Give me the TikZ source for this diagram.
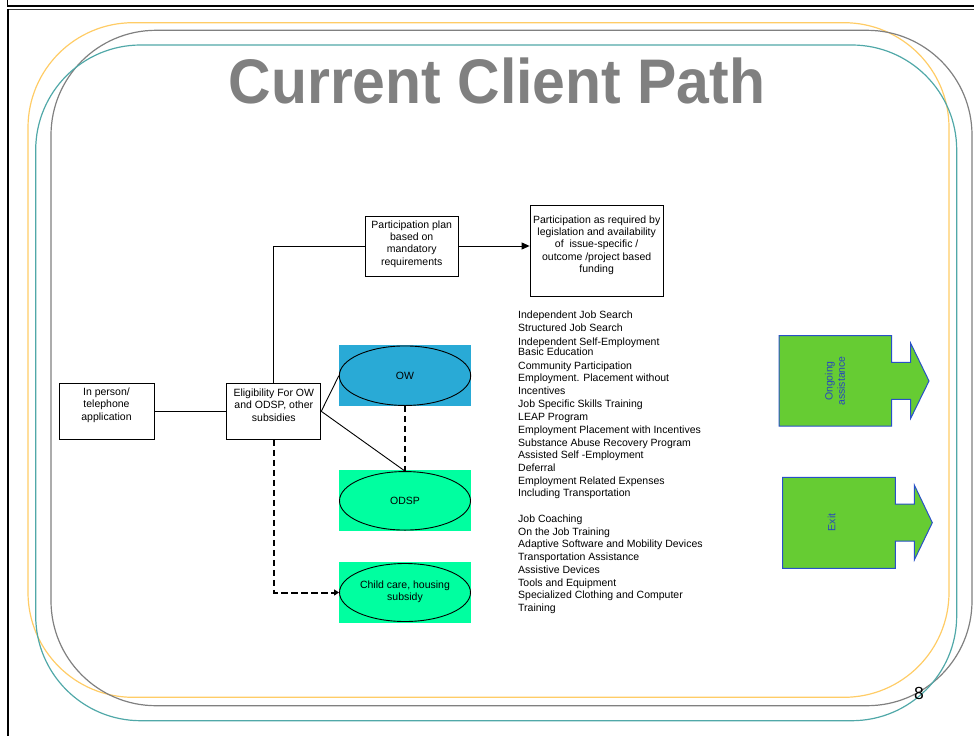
\documentclass[tikz,border=0pt]{standalone}
\usepackage{fontspec}
\setmainfont{Liberation Sans}
\usetikzlibrary{arrows.meta,shapes.geometric}

\definecolor{framegold}{RGB}{255,204,102}
\definecolor{framegray}{RGB}{128,128,128}
\definecolor{frameteal}{RGB}{80,168,168}
\definecolor{titlegray}{RGB}{128,128,128}
\definecolor{owblue}{RGB}{41,170,214}
\definecolor{odspgreen}{RGB}{0,255,160}
\definecolor{exitgreen}{RGB}{102,204,51}
\definecolor{exitedge}{RGB}{40,80,200}
\definecolor{exittext}{RGB}{40,70,190}

\tikzset{
  smalltext/.style={font=\fontsize{10.5}{12.3}\selectfont, align=center, inner sep=0pt},
  listtext/.style={font=\fontsize{10.5}{12.6}\selectfont, anchor=base west, inner sep=0pt},
  stepbox/.style={draw=black, line width=0.9pt, fill=white, inner sep=0pt},
  colorbg/.style={inner sep=0pt, minimum width=132pt},
  oval/.style={ellipse, draw=black, line width=0.9pt, inner sep=0pt},
  frameline/.style={line width=1.2pt, rounded corners=105pt},
  link/.style={draw=black, line width=0.9pt},
  dashlink/.style={draw=black, line width=2pt, dash pattern=on 6.5pt off 3.5pt},
  exitshape/.style={fill=exitgreen, draw=exitedge, line width=1pt},
  exitlabel/.style={font=\fontsize{10.5}{12.3}\selectfont, text=exittext, align=center, rotate=90, inner sep=0pt}
}

\begin{document}
\begin{tikzpicture}[x=1pt,y=-1pt]
\useasboundingbox (0,0) rectangle (974,736);

% slide border
\draw[line width=1.8pt] (7.5,0) -- (7.5,7);
\draw[line width=2pt] (7,6.3) -- (974,6.3);
\draw[line width=1.5pt, black!80] (7,9.6) -- (974,9.6);
\draw[line width=2pt] (8,9) -- (8,736);

% decorative rounded frames
\draw[frameline, framegold] (28,22.7) rectangle (949,697.3);
\draw[frameline, framegray] (51,30.3) rectangle (972,705.7);
\draw[frameline, frameteal] (35.7,45) rectangle (956.7,720.7);

% title
\node[anchor=base, inner sep=0pt, text=titlegray,
      font=\fontsize{63}{63}\selectfont\bfseries] (title) at (497,103.5)
      {\scalebox{0.935}[1]{Current Client Path}};

% boxes
\node[stepbox, minimum width=95pt, minimum height=56pt] (app) at (106.5,411.3) {};
\node[smalltext] (appT) at (106.5,405) {In person/\\telephone\\application};

\node[stepbox, minimum width=94pt, minimum height=56pt] (elig) at (273.8,411.3) {};
\node[smalltext] (eligT) at (273.8,405) {Eligibility For OW\\and ODSP, other\\subsidies};

\node[stepbox, minimum width=93.3pt, minimum height=60pt] (plan) at (411.7,246) {};
\node[smalltext] (planT) at (411.7,244) {Participation plan\\based on\\mandatory\\requirements};

\node[stepbox, minimum width=133.3pt, minimum height=91.7pt] (part) at (596.7,250.8) {};
\node[smalltext] (partT) at (596.7,245) {Participation as required by\\legislation and availability\\of\ \ issue-specific /\\outcome /project based\\funding};

% programme ovals on coloured panels
\node[colorbg, fill=owblue, minimum height=61pt] (owbg) at (405,375.5) {};
\node[oval, minimum width=131.4pt, minimum height=59.5pt, font=\fontsize{10.5}{12.3}\selectfont] (ow) at (405,375.7) {OW};

\node[colorbg, fill=odspgreen, minimum height=61pt] (odspbg) at (405,500.5) {};
\node[oval, minimum width=131pt, minimum height=58.5pt, font=\fontsize{10.5}{12.3}\selectfont] (odsp) at (405,500.8) {ODSP};

\node[colorbg, fill=odspgreen, minimum height=60.4pt] (childbg) at (405,592.5) {};
\node[oval, minimum width=131pt, minimum height=58pt] (child) at (405,592.5) {};
\node[smalltext] (childT) at (405,591.8) {Child care, housing\\subsidy};

% connectors
\draw[link] (app.east) -- (elig.west);
\draw[link] (elig.north) |- (plan.west);
\draw[link, -{Triangle[length=8pt,width=7pt]}] (plan.east) -- (plan.east -| part.west);
\draw[link] (elig.east) -- (ow.west);
\draw[link] (elig.east) -- (odsp.north);
\draw[dashlink] (ow.south) -- (odsp.north);
\draw[dashlink, -{Triangle[length=5pt,width=6pt]}] (elig.south) |- (child.west);

% list of programme options
\foreach \yy/\itemtext [count=\i] in {
  315/Independent Job Search,
  328.3/Structured Job Search,
  341.7/Independent Self-Employment,
  352.3/Basic Education,
  365.7/Community Participation,
  378.3/Employment. Placement without,
  390.7/Incentives,
  404.3/Job Specific Skills Training,
  416.7/LEAP Program,
  430/Employment Placement with Incentives,
  442.7/Substance Abuse Recovery Program,
  455/Assisted Self -Employment,
  468.3/Deferral,
  480.7/Employment Related Expenses,
  492.7/Including Transportation,
  519/Job Coaching,
  531.7/On the Job Training,
  544.3/Adaptive Software and Mobility Devices,
  557.3/Transportation Assistance,
  570/Assistive Devices,
  582.7/Tools and Equipment,
  595.3/Specialized Clothing and Computer,
  607.7/Training}
  \node[listtext] (item\i) at (518,\yy+3.6) {\itemtext};

% outcome arrows
\draw[exitshape] (779,335.7) -- (891.7,335.7) -- (891.7,362.3) -- (910.7,362.3)
  -- (910.7,343.3) -- (929,381) -- (910.7,418.3) -- (910.7,399.3)
  -- (891.7,399.3) -- (891.7,426) -- (779,426) -- cycle;
\node[exitlabel] (ongoing) at (835,381) {Ongoing\\assistance};

\draw[exitshape] (782.7,477.3) -- (895.3,477.3) -- (895.3,504) -- (914.3,504)
  -- (914.3,485) -- (932.3,522.7) -- (914.3,560) -- (914.3,541)
  -- (895.3,541) -- (895.3,568.3) -- (782.7,568.3) -- cycle;
\node[exitlabel] (exit) at (831.7,522.3) {Exit};

% page number
\node[inner sep=0pt, font=\fontsize{17.5}{17.5}\selectfont] (pagenum) at (919,693) {8};
\end{tikzpicture}
\end{document}
